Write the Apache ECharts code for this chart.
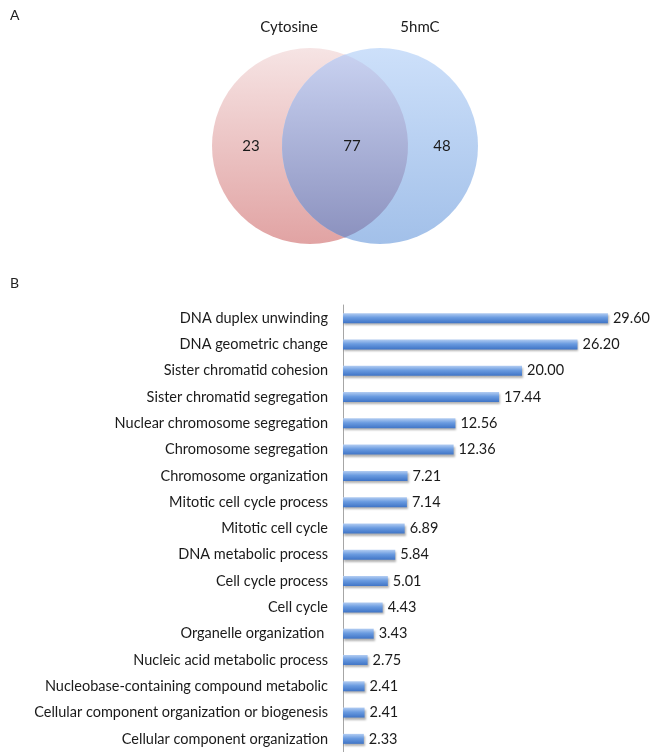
<!DOCTYPE html>
<html>
<head>
<meta charset="utf-8">
<script src="https://cdn.jsdelivr.net/npm/echarts@6/dist/echarts.min.js"></script>
<style>
  html, body { margin: 0; padding: 0; background: #fff; }
  #main { width: 651px; height: 752px; }
</style>
</head>
<body>
<div id="main"></div>
<script>
/* Venn (A) + GO enrichment bars (B) */
var setNames = ['Cytosine', '5hmC'];
var vennCounts = [23, 77, 48];          // left only, both, right only
var terms = [
    'DNA duplex unwinding',
    'DNA geometric change',
    'Sister chromatid cohesion',
    'Sister chromatid segregation',
    'Nuclear chromosome segregation',
    'Chromosome segregation',
    'Chromosome organization',
    'Mitotic cell cycle process',
    'Mitotic cell cycle',
    'DNA metabolic process',
    'Cell cycle process',
    'Cell cycle',
    'Organelle organization ',
    'Nucleic acid metabolic process',
    'Nucleobase-containing compound metabolic',
    'Cellular component organization or biogenesis',
    'Cellular component organization'
];
var scores = [29.60, 26.20, 20.00, 17.44, 12.56, 12.36, 7.21, 7.14, 6.89, 5.84, 5.01, 4.43, 3.43, 2.75, 2.41, 2.41, 2.33];

var FONT = 'Lato, "Open Sans", sans-serif';

// circles in venn units: [cx, cy, r]
var circles = [[-0.35, 0, 0.98], [0.35, 0, 0.98]];
var countPos = [[-0.94, 0], [0.07, 0], [0.97, 0]];
var namePos = [[-0.56, 1.19], [0.75, 1.19]];

var myChart = echarts.init(document.getElementById('main'));

function grad(c0, c1) {
    return new echarts.graphic.LinearGradient(0, 0, 0, 1, [
        {offset: 0, color: c0}, {offset: 1, color: c1}
    ]);
}

var option = {
    animation: false,
    backgroundColor: '#fff',
    textStyle: {fontFamily: FONT},
    graphic: [
        {type: 'text', left: 10, top: 8, style: {text: 'A', font: '14px ' + FONT, fill: '#222'}},
        {type: 'text', left: 10, top: 276, style: {text: 'B', font: '14px ' + FONT, fill: '#222'}}
    ],
    grid: [
        {left: 245, top: 46, width: 200, height: 200},
        {left: 343, top: 305, width: 268.5, bottom: 0}
    ],
    xAxis: [
        {gridIndex: 0, type: 'value', min: -1, max: 1, show: false},
        {gridIndex: 1, type: 'value', min: 0, max: 30, show: false}
    ],
    yAxis: [
        {gridIndex: 0, type: 'value', min: -1, max: 1, show: false},
        {
            gridIndex: 1,
            type: 'category',
            inverse: true,
            data: terms,
            axisLine: {show: true, lineStyle: {color: '#a6a6a6', width: 1}},
            axisTick: {show: false},
            axisLabel: {color: '#1a1a1a', fontSize: 14.5, fontFamily: FONT, margin: 15}
        }
    ],
    series: [
        {
            type: 'custom',
            xAxisIndex: 0,
            yAxisIndex: 0,
            silent: true,
            data: [0],
            renderItem: function (params, api) {
                var a = circles[0], b = circles[1];
                var ca = api.coord([a[0], a[1]]);
                var cb = api.coord([b[0], b[1]]);
                var r = api.size([a[2], 0])[0];
                var d = cb[0] - ca[0];
                var mx = (ca[0] + cb[0]) / 2;
                var h = Math.sqrt(r * r - (d / 2) * (d / 2));
                var top = ca[1] - h, bot = ca[1] + h;
                var lens = 'M' + mx + ' ' + top +
                    ' A' + r + ' ' + r + ' 0 0 1 ' + mx + ' ' + bot +
                    ' A' + r + ' ' + r + ' 0 0 1 ' + mx + ' ' + top + ' Z';
                var children = [
                    {type: 'circle', shape: {cx: ca[0], cy: ca[1], r: r},
                        style: {fill: grad('#f6e4e4', '#e1a3a3')}},
                    {type: 'circle', shape: {cx: cb[0], cy: cb[1], r: r},
                        style: {fill: grad('#cde0fa', '#a2c0e9')}},
                    {type: 'path', shape: {pathData: lens},
                        style: {fill: grad('#c8d1f0', '#8c92bf')}}
                ];
                var labels = [];
                vennCounts.forEach(function (v, i) {
                    var p = api.coord(countPos[i]);
                    labels.push({type: 'text', x: p[0], y: p[1],
                        style: {text: String(v), font: '15px ' + FONT, fill: '#1a1a1a',
                            align: 'center', verticalAlign: 'middle'}});
                });
                setNames.forEach(function (s, i) {
                    var p = api.coord(namePos[i]);
                    labels.push({type: 'text', x: p[0], y: p[1],
                        style: {text: s, font: '15px ' + FONT, fill: '#1a1a1a',
                            align: 'center', verticalAlign: 'middle'}});
                });
                return {type: 'group', children: children.concat(labels)};
            }
        },
        {
            type: 'bar',
            xAxisIndex: 1,
            yAxisIndex: 1,
            data: scores,
            barWidth: 10,
            itemStyle: {
                color: new echarts.graphic.LinearGradient(0, 0, 0, 1, [
                    {offset: 0, color: '#b3cdf2'},
                    {offset: 0.45, color: '#6a9be0'},
                    {offset: 1, color: '#3f74c6'}
                ]),
                shadowColor: 'rgba(0,0,0,0.3)',
                shadowBlur: 2,
                shadowOffsetX: 1,
                shadowOffsetY: 2
            },
            label: {
                show: true,
                position: 'right',
                distance: 5,
                color: '#1a1a1a',
                fontSize: 14.5,
                fontFamily: FONT,
                formatter: function (p) { return p.value.toFixed(2); }
            }
        }
    ]
};
myChart.setOption(option);
</script>
</body>
</html>
